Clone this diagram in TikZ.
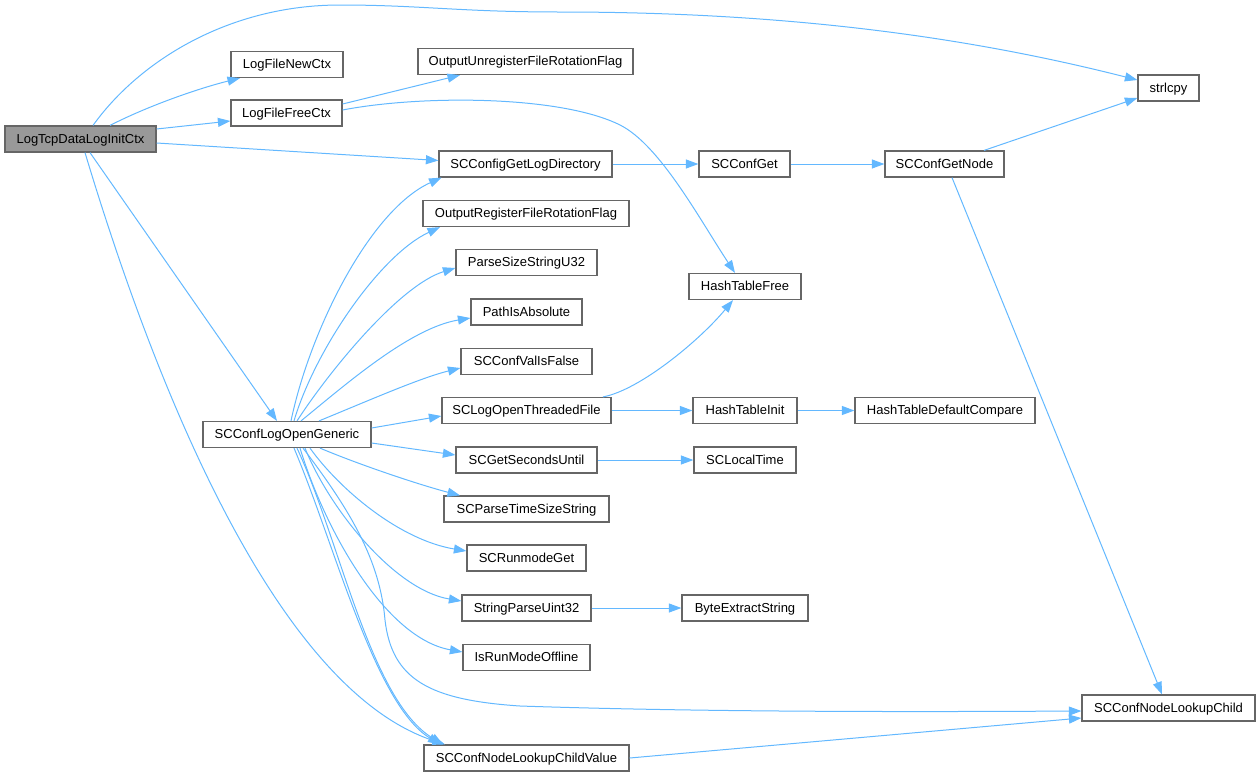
\documentclass[tikz,border=0pt]{standalone}
\usepackage{fontspec}
\setmainfont{Liberation Sans}
\usetikzlibrary{arrows.meta}
\definecolor{edgeblue}{HTML}{63B8FF}
\definecolor{boxgray}{HTML}{666666}
\definecolor{mainfill}{HTML}{999999}
\tikzset{
  box/.style={draw=boxgray, line width=1.2pt, fill=white, minimum height=26, inner sep=0pt,
    text height=9.5pt, text depth=1.3pt, font=\fontsize{13}{15}\selectfont},
  mainbox/.style={box, fill=mainfill},
  edge/.style={draw=edgeblue, line width=1pt, -{Triangle[length=12.5pt,width=9pt]}},
}
\begin{document}
\begin{tikzpicture}[x=1pt,y=-1pt]
\useasboundingbox (0,0) rectangle (1260,777);
% nodes
\node[mainbox, minimum width=151] (main) at (80.5,139) {LogTcpDataLogInitCtx};
\node[box, minimum width=112] (newctx) at (287,64.5) {LogFileNewCtx};
\node[box, minimum width=111] (freectx) at (286.5,113) {LogFileFreeCtx};
\node[box, minimum width=215] (unreg) at (525.5,61.5) {OutputUnregisterFileRotationFlag};
\node[box, minimum width=61] (strlcpy) at (1168.5,88) {strlcpy};
\node[box, minimum width=173] (getlogdir) at (525.5,164) {SCConfigGetLogDirectory};
\node[box, minimum width=91] (confget) at (744.5,164) {SCConfGet};
\node[box, minimum width=119] (getnode) at (944.5,164) {SCConfGetNode};
\node[box, minimum width=206] (reg) at (526,213.5) {OutputRegisterFileRotationFlag};
\node[box, minimum width=141] (parsesize) at (526.5,262.5) {ParseSizeStringU32};
\node[box, minimum width=112] (htfree) at (745,286.5) {HashTableFree};
\node[box, minimum width=111] (pathabs) at (526.5,312) {PathIsAbsolute};
\node[box, minimum width=131] (valfalse) at (526.5,361.5) {SCConfValIsFalse};
\node[box, minimum width=168] (generic) at (287,434.5) {SCConfLogOpenGeneric};
\node[box, minimum width=169] (threaded) at (526.5,410.5) {SCLogOpenThreadedFile};
\node[box, minimum width=104] (htinit) at (745,410.5) {HashTableInit};
\node[box, minimum width=180] (htdc) at (945,410.5) {HashTableDefaultCompare};
\node[box, minimum width=141] (seconds) at (526.5,460) {SCGetSecondsUntil};
\node[box, minimum width=102] (localtime) at (745,460) {SCLocalTime};
\node[box, minimum width=165] (timesize) at (526.5,509) {SCParseTimeSizeString};
\node[box, minimum width=119] (runmode) at (526.5,558) {SCRunmodeGet};
\node[box, minimum width=129] (parseu32) at (526.5,608) {StringParseUint32};
\node[box, minimum width=126] (byteextract) at (745,608) {ByteExtractString};
\node[box, minimum width=127] (offline) at (526.5,657.5) {IsRunModeOffline};
\node[box, minimum width=173] (lookupchild) at (1168.5,708) {SCConfNodeLookupChild};
\node[box, minimum width=205] (lookupval) at (526.5,758) {SCConfNodeLookupChildValue};
% edges from main
\draw[edge] ([xshift=12.5]main.north) .. controls (140,60) and (230,5) .. (340,5)
  .. controls (420,5) and (460,12) .. (560,12)
  .. controls (800,12) and (980,40) .. ([yshift=8]strlcpy.west);
\draw[edge] ([xshift=29.5]main.north) .. controls (150,105) and (200,88) .. ([xshift=-47]newctx.south);
\draw[edge] ([yshift=10]main.east) -- ([yshift=-8]freectx.west);
\draw[edge] ([yshift=-4]main.east) -- ([yshift=3.5]getlogdir.west);
\draw[edge] ([xshift=9.5]main.south) -- ([xshift=-10]generic.north);
\draw[edge] ([xshift=4.5]main.south) .. controls (160,402) and (280,690) .. ([xshift=-81.5]lookupval.north);
% freectx
\draw[edge] ([yshift=9]freectx.east) -- ([xshift=-65.5]unreg.south);
\draw[edge] ([yshift=3]freectx.east) .. controls (420,95) and (560,95) .. (620,125)
  .. controls (660,145) and (700,220) .. ([xshift=-10]htfree.north);
% chain
\draw[edge] (getlogdir.east) -- (confget.west);
\draw[edge] (confget.east) -- (getnode.west);
\draw[edge] ([xshift=39.5]getnode.north) -- ([yshift=-10]strlcpy.west);
\draw[edge] ([xshift=7.5]getnode.south) -- ([xshift=-6.5]lookupchild.north);
% generic fan
\draw[edge] ([xshift=4]generic.north) .. controls (310,330) and (370,210) .. ([xshift=-84]getlogdir.south);
\draw[edge] ([xshift=7]generic.north) .. controls (315,350) and (380,255) .. ([xshift=-86]reg.south);
\draw[edge] ([xshift=10]generic.north) .. controls (330,370) and (400,285) .. ([yshift=-5.5]parsesize.west);
\draw[edge] ([xshift=14]generic.north) .. controls (345,385) and (410,328) .. ([yshift=-6]pathabs.west);
\draw[edge] ([xshift=32]generic.north) .. controls (370,400) and (420,378) .. ([yshift=-6.5]valfalse.west);
\draw[edge] ([yshift=6.5]generic.east) -- ([yshift=-5.5]threaded.west);
\draw[edge] ([yshift=-8.5]generic.east) -- ([yshift=5]seconds.west);
\draw[edge] ([xshift=33]generic.south) .. controls (360,465) and (420,485) .. ([xshift=-66.5]timesize.north);
\draw[edge] ([xshift=23]generic.south) .. controls (340,490) and (400,540) .. ([yshift=7]runmode.west);
\draw[edge] ([xshift=18]generic.south) .. controls (330,510) and (395,590) .. ([yshift=7]parseu32.west);
\draw[edge] ([xshift=13]generic.south) .. controls (325,530) and (385,638) .. ([yshift=5.5]offline.west);
\draw[edge] ([xshift=16]generic.south) .. controls (350,510) and (380,560) .. (385,620)
  .. controls (392,680) and (430,700) .. (520,706)
  .. controls (700,712) and (900,712) .. ([yshift=-3]lookupchild.west);
\draw[edge] ([xshift=10]generic.south) .. controls (340,540) and (370,700) .. ([xshift=-83.5]lookupval.north);
\draw[edge] ([xshift=7]generic.south) .. controls (335,545) and (375,705) .. ([xshift=-86]lookupval.north);
% others
\draw[edge] ([xshift=76.5]threaded.north) .. controls (640,390) and (700,340) .. ([xshift=-12]htfree.south);
\draw[edge] (threaded.east) -- (htinit.west);
\draw[edge] (htinit.east) -- (htdc.west);
\draw[edge] (seconds.east) -- (localtime.west);
\draw[edge] (parseu32.east) -- (byteextract.west);
\draw[edge] (lookupval.east) -- ([yshift=-10]lookupchild.west);
\end{tikzpicture}
\end{document}
